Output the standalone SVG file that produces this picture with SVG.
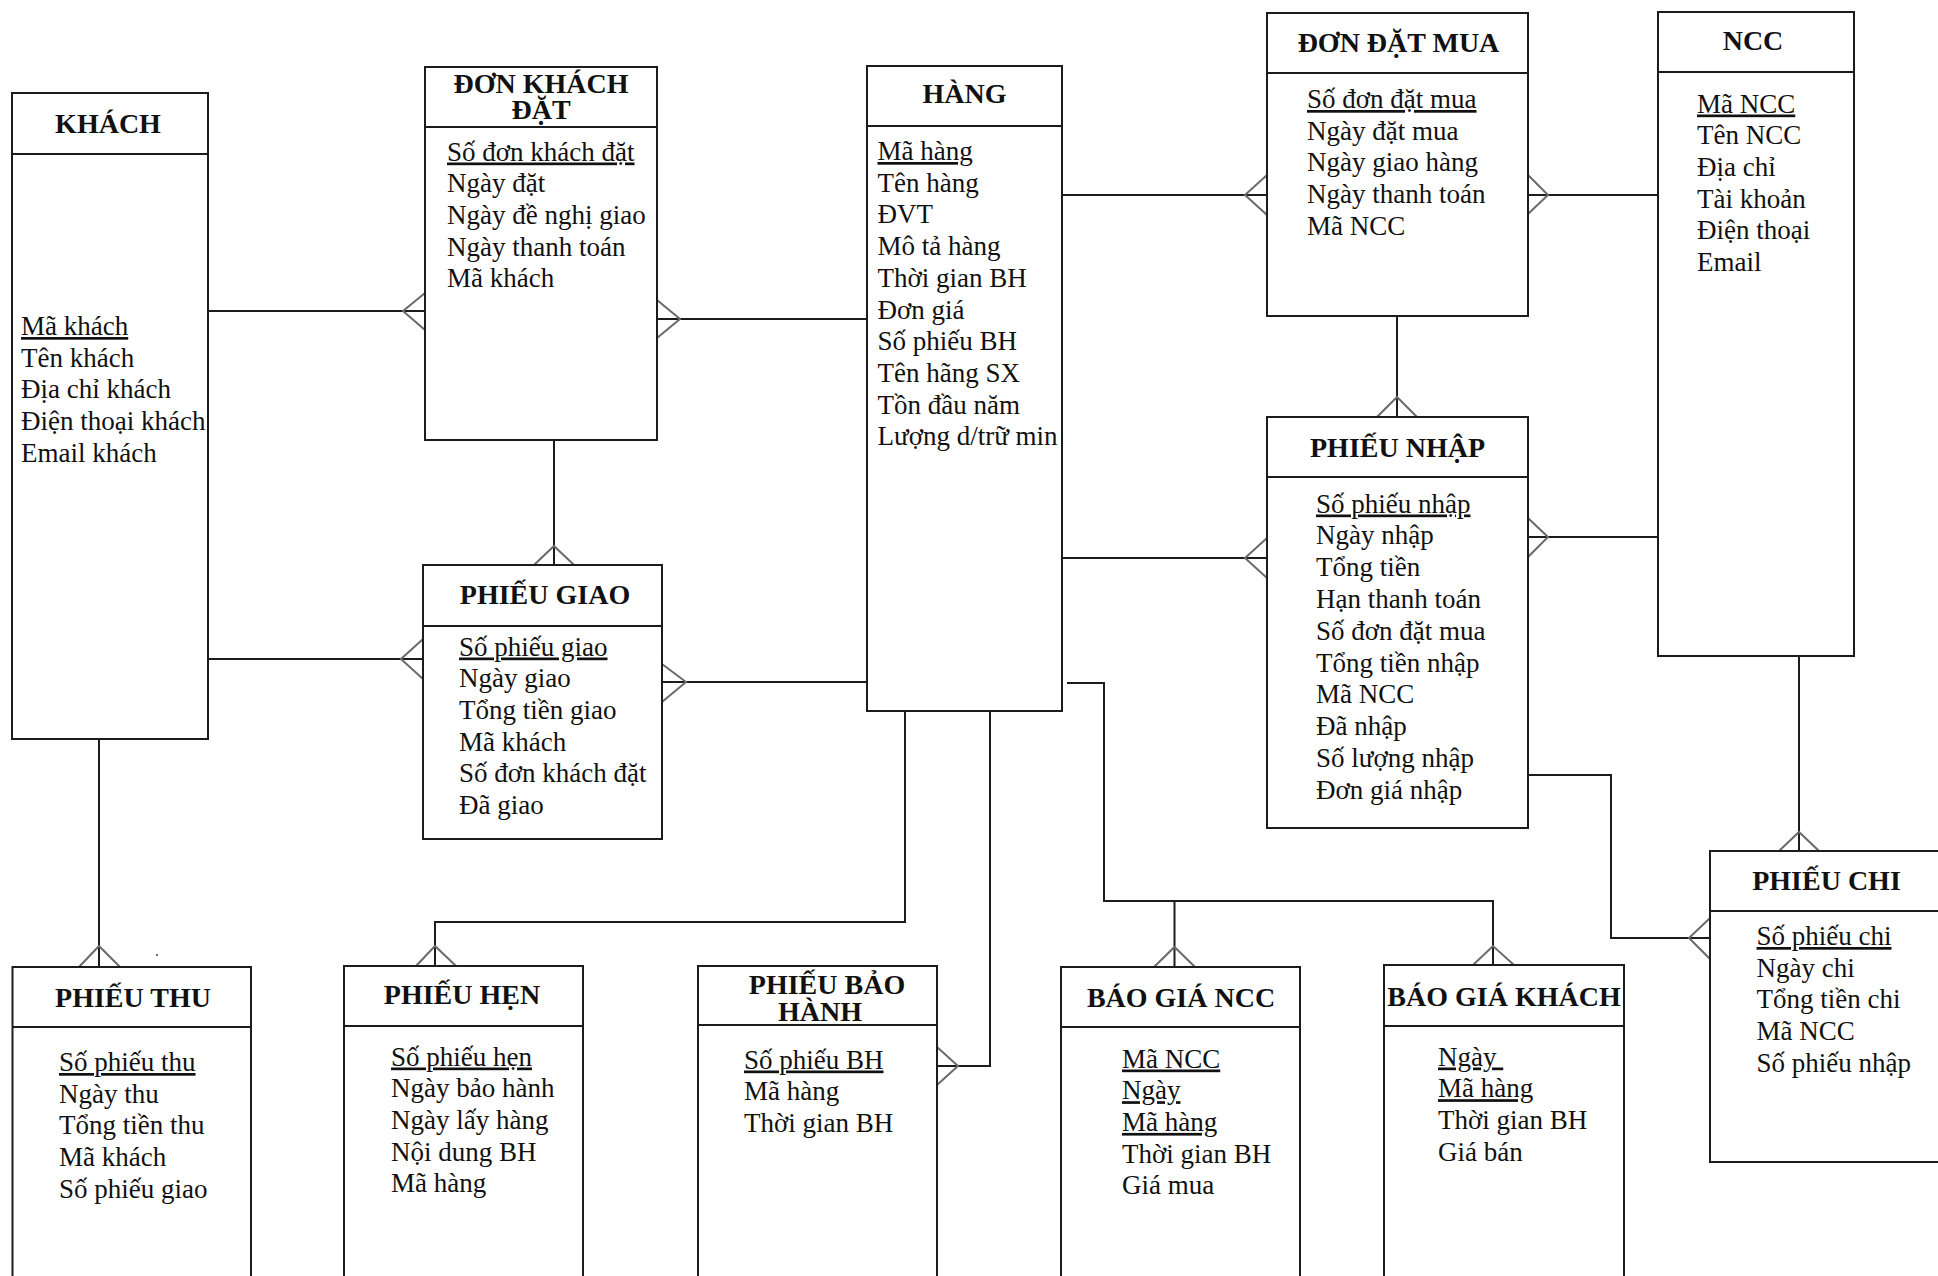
<svg xmlns="http://www.w3.org/2000/svg" width="1938" height="1276" viewBox="0 0 1938 1276">
  <style>
    .box{fill:#fff;stroke:#1c1c1c;stroke-width:2}
    .sep{stroke:#1c1c1c;stroke-width:2}
    .ttl{font-family:"Liberation Serif","Times New Roman",serif;font-weight:bold;font-size:28px;text-anchor:middle;fill:#111}
    .att{font-family:"Liberation Serif","Times New Roman",serif;font-size:27px;fill:#111}
    .key{text-decoration:underline}
    .rel{fill:none;stroke:#1c1c1c;stroke-width:2}
    .crow{fill:none;stroke:#6a6a6a;stroke-width:2}
  </style>
  <rect width="1938" height="1276" fill="#fff"/>

  <!-- relationships -->
  <g id="connectors">
    <path class="rel" d="M208,311 H425"/>
    <path class="crow" d="M425,293 L403,311 L425,330"/>

    <path class="rel" d="M657,319 H867"/>
    <path class="crow" d="M657,300 L680,319 L657,338"/>

    <path class="rel" d="M554,440 V565"/>
    <path class="crow" d="M534,565 L554,546 L574,565"/>

    <path class="rel" d="M208,659 H423"/>
    <path class="crow" d="M423,639 L401,659 L423,679"/>

    <path class="rel" d="M662,682 H867"/>
    <path class="crow" d="M662,664 L686,682 L662,702"/>

    <path class="rel" d="M1062,195 H1267"/>
    <path class="crow" d="M1267,175 L1245,195 L1267,215"/>

    <path class="rel" d="M1528,195 H1658"/>
    <path class="crow" d="M1528,175 L1548,195 L1528,214"/>

    <path class="rel" d="M1397,316 V417"/>
    <path class="crow" d="M1377,417 L1397,397 L1417,417"/>

    <path class="rel" d="M1062,558 H1267"/>
    <path class="crow" d="M1267,538 L1245,558 L1267,578"/>

    <path class="rel" d="M1528,537 H1658"/>
    <path class="crow" d="M1528,518 L1548,537 L1528,557"/>

    <path class="rel" d="M1528,775 H1611 V938 H1710"/>
    <path class="crow" d="M1710,918 L1689,938 L1710,959"/>

    <path class="rel" d="M1799,656 V851"/>
    <path class="crow" d="M1779,851 L1799,832 L1819,851"/>

    <path class="rel" d="M99,739 V967"/>
    <path class="crow" d="M79,967 L99,946 L120,967"/>

    <path class="rel" d="M905,711 V922 H435 V966"/>
    <path class="crow" d="M416,966 L435,946 L456,966"/>

    <path class="rel" d="M990,711 V1066 H937"/>
    <path class="crow" d="M937,1047 L958,1066 L937,1085"/>

    <path class="rel" d="M1067,683 H1104 V901 H1493 V965"/>
    <path class="rel" d="M1174.5,901 V967"/>
    <path class="crow" d="M1154,967 L1174.5,947 L1195,967"/>
    <path class="crow" d="M1473,965 L1493,946 L1514,965"/>

    <rect x="156" y="954" width="2" height="2" fill="#777"/>
  </g>

  <g id="khach">
    <rect class="box" x="12" y="93" width="196" height="646"/>
    <line class="sep" x1="12" y1="154" x2="208" y2="154"/>
    <text class="ttl" x="108" y="133">KHÁCH</text>
    <text class="att">
      <tspan class="key" x="21" y="335">Mã khách</tspan>
      <tspan x="21" y="366.7">Tên khách</tspan>
      <tspan x="21" y="398.4">Địa chỉ khách</tspan>
      <tspan x="21" y="430.1">Điện thoại khách</tspan>
      <tspan x="21" y="461.8">Email khách</tspan>
    </text>
  </g>

  <g id="don-khach-dat">
    <rect class="box" x="425" y="67" width="232" height="373"/>
    <line class="sep" x1="425" y1="127" x2="657" y2="127"/>
    <text class="ttl"><tspan x="541" y="93">ĐƠN KHÁCH</tspan><tspan x="541" y="119">ĐẶT</tspan></text>
    <text class="att">
      <tspan class="key" x="447" y="160.5">Số đơn khách đặt</tspan>
      <tspan x="447" y="192.2">Ngày đặt</tspan>
      <tspan x="447" y="223.9">Ngày đề nghị giao</tspan>
      <tspan x="447" y="255.6">Ngày thanh toán</tspan>
      <tspan x="447" y="287.3">Mã khách</tspan>
    </text>
  </g>

  <g id="hang">
    <rect class="box" x="867" y="66" width="195" height="645"/>
    <line class="sep" x1="867" y1="126" x2="1062" y2="126"/>
    <text class="ttl" x="964.5" y="103">HÀNG</text>
    <text class="att">
      <tspan class="key" x="877.5" y="160">Mã hàng</tspan>
      <tspan x="877.5" y="191.7">Tên hàng</tspan>
      <tspan x="877.5" y="223.4">ĐVT</tspan>
      <tspan x="877.5" y="255.1">Mô tả hàng</tspan>
      <tspan x="877.5" y="286.8">Thời gian BH</tspan>
      <tspan x="877.5" y="318.5">Đơn giá</tspan>
      <tspan x="877.5" y="350.2">Số phiếu BH</tspan>
      <tspan x="877.5" y="381.9">Tên hãng SX</tspan>
      <tspan x="877.5" y="413.6">Tồn đầu năm</tspan>
      <tspan x="877.5" y="445.3">Lượng d/trữ min</tspan>
    </text>
  </g>

  <g id="don-dat-mua">
    <rect class="box" x="1267" y="13" width="261" height="303"/>
    <line class="sep" x1="1267" y1="73" x2="1528" y2="73"/>
    <text class="ttl" x="1398.5" y="51.5">ĐƠN ĐẶT MUA</text>
    <text class="att">
      <tspan class="key" x="1307" y="108">Số đơn đặt mua</tspan>
      <tspan x="1307" y="139.7">Ngày đặt mua</tspan>
      <tspan x="1307" y="171.4">Ngày giao hàng</tspan>
      <tspan x="1307" y="203.1">Ngày thanh toán</tspan>
      <tspan x="1307" y="234.8">Mã NCC</tspan>
    </text>
  </g>

  <g id="ncc">
    <rect class="box" x="1658" y="12" width="196" height="644"/>
    <line class="sep" x1="1658" y1="72" x2="1854" y2="72"/>
    <text class="ttl" x="1753" y="50">NCC</text>
    <text class="att">
      <tspan class="key" x="1697" y="112.5">Mã NCC</tspan>
      <tspan x="1697" y="144.2">Tên NCC</tspan>
      <tspan x="1697" y="175.9">Địa chỉ</tspan>
      <tspan x="1697" y="207.6">Tài khoản</tspan>
      <tspan x="1697" y="239.3">Điện thoại</tspan>
      <tspan x="1697" y="271">Email</tspan>
    </text>
  </g>

  <g id="phieu-nhap">
    <rect class="box" x="1267" y="417" width="261" height="411"/>
    <line class="sep" x1="1267" y1="477" x2="1528" y2="477"/>
    <text class="ttl" x="1397.5" y="457">PHIẾU NHẬP</text>
    <text class="att">
      <tspan class="key" x="1316" y="512.5">Số phiếu nhập</tspan>
      <tspan x="1316" y="544.3">Ngày nhập</tspan>
      <tspan x="1316" y="576.1">Tổng tiền</tspan>
      <tspan x="1316" y="607.9">Hạn thanh toán</tspan>
      <tspan x="1316" y="639.7">Số đơn đặt mua</tspan>
      <tspan x="1316" y="671.5">Tổng tiền nhập</tspan>
      <tspan x="1316" y="703.3">Mã NCC</tspan>
      <tspan x="1316" y="735.1">Đã nhập</tspan>
      <tspan x="1316" y="766.9">Số lượng nhập</tspan>
      <tspan x="1316" y="798.7">Đơn giá nhập</tspan>
    </text>
  </g>

  <g id="phieu-giao">
    <rect class="box" x="423" y="565" width="239" height="274"/>
    <line class="sep" x1="423" y1="626" x2="662" y2="626"/>
    <text class="ttl" x="545" y="604">PHIẾU GIAO</text>
    <text class="att">
      <tspan class="key" x="459" y="655.5">Số phiếu giao</tspan>
      <tspan x="459" y="687.2">Ngày giao</tspan>
      <tspan x="459" y="718.9">Tổng tiền giao</tspan>
      <tspan x="459" y="750.6">Mã khách</tspan>
      <tspan x="459" y="782.3">Số đơn khách đặt</tspan>
      <tspan x="459" y="814">Đã giao</tspan>
    </text>
  </g>

  <g id="phieu-thu">
    <rect class="box" x="12.5" y="967" width="238.5" height="330"/>
    <line class="sep" x1="12.5" y1="1027" x2="251" y2="1027"/>
    <text class="ttl" x="133" y="1006.5">PHIẾU THU</text>
    <text class="att">
      <tspan class="key" x="59" y="1071">Số phiếu thu</tspan>
      <tspan x="59" y="1102.7">Ngày thu</tspan>
      <tspan x="59" y="1134.4">Tổng tiền thu</tspan>
      <tspan x="59" y="1166.1">Mã khách</tspan>
      <tspan x="59" y="1197.8">Số phiếu giao</tspan>
    </text>
  </g>

  <g id="phieu-hen">
    <rect class="box" x="344" y="966" width="239" height="330"/>
    <line class="sep" x1="344" y1="1026" x2="583" y2="1026"/>
    <text class="ttl" x="462" y="1004">PHIẾU HẸN</text>
    <text class="att">
      <tspan class="key" x="391" y="1065.5">Số phiếu hẹn</tspan>
      <tspan x="391" y="1097.2">Ngày bảo hành</tspan>
      <tspan x="391" y="1128.9">Ngày lấy hàng</tspan>
      <tspan x="391" y="1160.6">Nội dung BH</tspan>
      <tspan x="391" y="1192.3">Mã hàng</tspan>
    </text>
  </g>

  <g id="phieu-bao-hanh">
    <rect class="box" x="698" y="966" width="239" height="330"/>
    <line class="sep" x1="698" y1="1025" x2="937" y2="1025"/>
    <text class="ttl"><tspan x="827" y="994">PHIẾU BẢO</tspan><tspan x="820" y="1020.5">HÀNH</tspan></text>
    <text class="att">
      <tspan class="key" x="744" y="1068.5">Số phiếu BH</tspan>
      <tspan x="744" y="1100.2">Mã hàng</tspan>
      <tspan x="744" y="1131.9">Thời gian BH</tspan>
    </text>
  </g>

  <g id="bao-gia-ncc">
    <rect class="box" x="1061" y="967" width="239" height="330"/>
    <line class="sep" x1="1061" y1="1027" x2="1300" y2="1027"/>
    <text class="ttl" x="1181" y="1007">BÁO GIÁ NCC</text>
    <text class="att">
      <tspan class="key" x="1122" y="1067.5">Mã NCC</tspan>
      <tspan class="key" x="1122" y="1099.2">Ngày</tspan>
      <tspan class="key" x="1122" y="1130.9">Mã hàng</tspan>
      <tspan x="1122" y="1162.6">Thời gian BH</tspan>
      <tspan x="1122" y="1194.3">Giá mua</tspan>
    </text>
  </g>

  <g id="bao-gia-khach">
    <rect class="box" x="1384" y="965" width="240" height="330"/>
    <line class="sep" x1="1384" y1="1026" x2="1624" y2="1026"/>
    <text class="ttl" x="1504" y="1006">BÁO GIÁ KHÁCH</text>
    <text class="att">
      <tspan class="key" x="1438" y="1065.5">Ngày&#160;</tspan>
      <tspan class="key" x="1438" y="1097.2">Mã hàng</tspan>
      <tspan x="1438" y="1128.9">Thời gian BH</tspan>
      <tspan x="1438" y="1160.6">Giá bán</tspan>
    </text>
  </g>

  <g id="phieu-chi">
    <rect class="box" x="1710" y="851" width="236" height="311"/>
    <line class="sep" x1="1710" y1="911" x2="1946" y2="911"/>
    <text class="ttl" x="1826.5" y="890">PHIẾU CHI</text>
    <text class="att">
      <tspan class="key" x="1756.5" y="945">Số phiếu chi</tspan>
      <tspan x="1756.5" y="976.7">Ngày chi</tspan>
      <tspan x="1756.5" y="1008.4">Tổng tiền chi</tspan>
      <tspan x="1756.5" y="1040.1">Mã NCC</tspan>
      <tspan x="1756.5" y="1071.8">Số phiếu nhập</tspan>
    </text>
  </g>
</svg>
